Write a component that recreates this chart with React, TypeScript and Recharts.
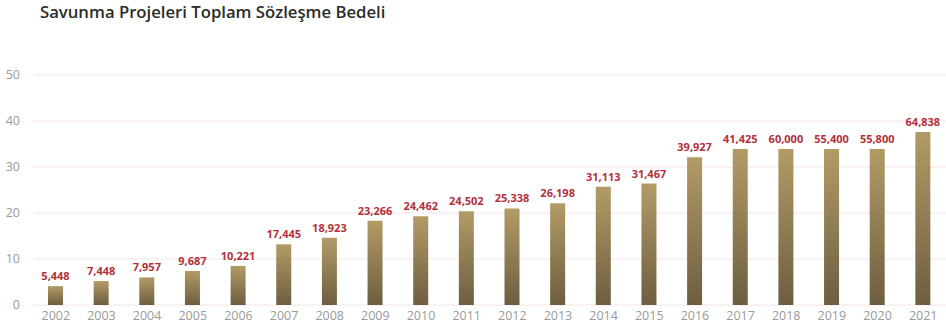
import { BarChart, Bar, XAxis, YAxis, CartesianGrid, LabelList } from "recharts";

const years = [
  "2002", "2003", "2004", "2005", "2006", "2007", "2008", "2009", "2010", "2011",
  "2012", "2013", "2014", "2015", "2016", "2017", "2018", "2019", "2020", "2021",
];

// bar heights as drawn (axis units)
const heights = [
  4.1, 5.2, 6.0, 7.4, 8.5, 13.2, 14.6, 18.3, 19.3, 20.4,
  21.0, 22.1, 25.7, 26.4, 32.1, 33.9, 33.9, 33.9, 33.9, 37.6,
];

// value labels printed above the bars
const labels = [
  "5,448", "7,448", "7,957", "9,687", "10,221", "17,445", "18,923", "23,266", "24,462", "24,502",
  "25,338", "26,198", "31,113", "31,467", "39,927", "41,425", "60,000", "55,400", "55,800", "64,838",
];

const yTicks = [0, 10, 20, 30, 40, 50];

const data = years.map((year, i) => ({ year, value: heights[i], label: labels[i] }));

export default function App() {
  return (
    <div
      style={{
        position: "absolute",
        top: 0,
        left: 0,
        width: 946,
        height: 329,
        background: "#fff",
        fontFamily: "'Open Sans', sans-serif",
      }}
    >
      <div
        style={{
          position: "absolute",
          left: 40,
          top: 0,
          fontSize: 16.7,
          fontWeight: 600,
          color: "#2b2b2b",
          whiteSpace: "nowrap",
        }}
      >
        Savunma Projeleri Toplam Sözleşme Bedeli
      </div>
      <BarChart
        width={946}
        height={329}
        data={data}
        margin={{ top: 75, right: 0, bottom: 0, left: 0 }}
        barCategoryGap={0}
      >
        <defs>
          <linearGradient id="barGold" x1="0" y1="0" x2="0" y2="1">
            <stop offset="0%" stopColor="#b29b66" />
            <stop offset="100%" stopColor="#6d5e40" />
          </linearGradient>
        </defs>
        <CartesianGrid vertical={false} stroke="#f5e3e4" strokeWidth={1} />
        <XAxis
          dataKey="year"
          axisLine={false}
          tickLine={false}
          height={24}
          tickSize={0}
          tickMargin={6}
          interval={0}
          tick={{ fill: "#9a9a9a", fontSize: 12.5 }}
        />
        <YAxis
          domain={[0, 50]}
          ticks={yTicks}
          axisLine={false}
          tickLine={false}
          width={33}
          tickSize={0}
          tickMargin={13}
          tick={{ fill: "#9a9a9a", fontSize: 12.5 }}
        />
        <Bar dataKey="value" fill="url(#barGold)" barSize={15} isAnimationActive={false}>
          <LabelList
            dataKey="label"
            position="top"
            offset={6}
            fill="#b3303b"
            fontSize={11}
            fontWeight={700}
          />
        </Bar>
      </BarChart>
    </div>
  );
}
